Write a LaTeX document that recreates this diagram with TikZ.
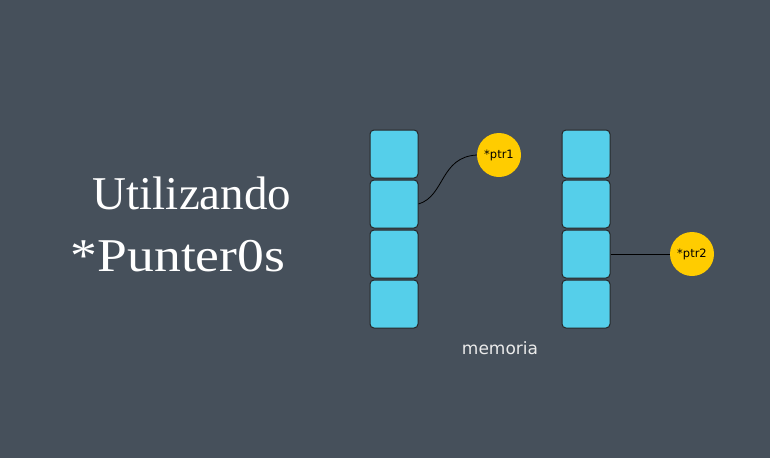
\documentclass[tikz,border=0pt]{standalone}
\usepackage{fontspec}
\setmainfont{Liberation Serif}
\newfontfamily\uisans{DejaVu Sans}
\definecolor{bgc}{RGB}{70,80,91}
\definecolor{cellc}{RGB}{85,207,234}
\definecolor{ptrc}{RGB}{255,204,0}
\begin{document}
\begin{tikzpicture}[x=1pt,y=-1pt,
  cell/.style={draw=black!85,fill=cellc,rounded corners=4pt,line width=1pt,minimum width=48pt,minimum height=48pt,inner sep=0pt},
  ptr/.style={circle,fill=ptrc,minimum size=44pt,inner sep=0pt,font=\uisans\fontsize{11.5}{13}\selectfont,text=black},
  link/.style={draw=black,line width=0.8pt}]
\fill[bgc] (0,0) rectangle (770,458);
\useasboundingbox (0,0) rectangle (770,458);
% left column
\node[cell] (a1) at (394,154) {};
\node[cell] (a2) at (394,204) {};
\node[cell] (a3) at (394,254) {};
\node[cell] (a4) at (394,304) {};
% right column
\node[cell] (b1) at (586,154) {};
\node[cell] (b2) at (586,204) {};
\node[cell] (b3) at (586,254) {};
\node[cell] (b4) at (586,304) {};
\node[ptr] (p1) at (499,155) {*ptr1};
\node[ptr] (p2) at (692,254) {*ptr2};
\draw[link] (a2.east) .. controls (445,196) and (440,157) .. (p1.west);
\draw[link] (b3.east) -- (p2.west);
\node[text=white,font=\fontsize{47}{50}\selectfont,anchor=base] (t1) at (192,209) {Utilizando};
\node[text=white,font=\fontsize{47}{50}\selectfont,anchor=base] (t2) at (178,271) {\scalebox{1.14}[1]{*Punter0s}};
\node[text=white!92!black,font=\uisans\fontsize{17}{20}\selectfont,anchor=base] (mem) at (500,354) {memoria};
\end{tikzpicture}
\end{document}
